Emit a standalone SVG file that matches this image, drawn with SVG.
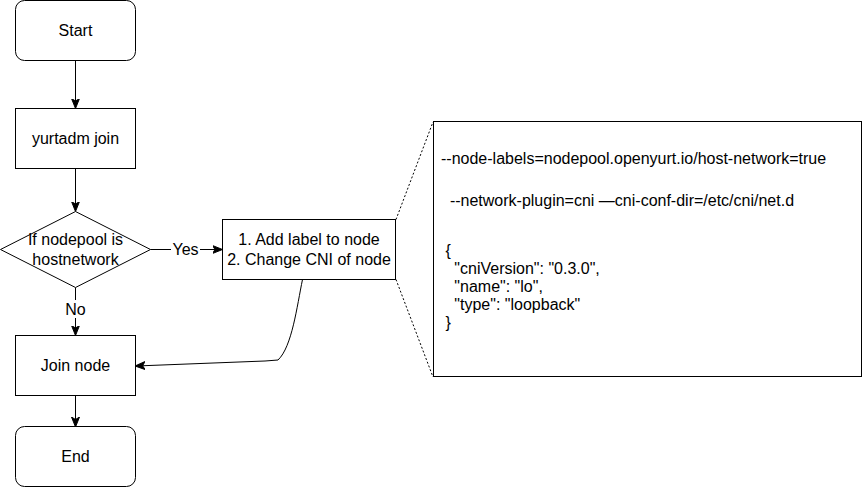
<svg xmlns="http://www.w3.org/2000/svg" width="862" height="487" viewBox="0 0 862 487">
<style>
.n{fill:#fff;stroke:#000;stroke-width:1}
.t{font-family:"Liberation Sans",Arial,sans-serif;font-size:16px;fill:#000}
.c{text-anchor:middle}
.e{fill:none;stroke:#000;stroke-width:1}
.d{fill:none;stroke:#000;stroke-width:1;stroke-dasharray:2 2}
.lb{fill:#fff;stroke:none}
</style>
<defs>
<marker id="arr" viewBox="0 0 10 10" refX="9" refY="5" markerWidth="10" markerHeight="10" markerUnits="userSpaceOnUse" orient="auto">
<path d="M0,1 L10,5 L0,9 L2.5,5 Z" fill="#000" stroke="#000" stroke-width="1"/>
</marker>
</defs>
<rect width="862" height="487" fill="#fff"/>
<g id="connectors">
<path class="e" d="M75.5,60.5 L75.5,107.5" marker-end="url(#arr)"/>
<path class="e" d="M75.5,168.5 L75.5,210.5" marker-end="url(#arr)"/>
<path class="e" d="M75.5,287.5 L75.5,334.5" marker-end="url(#arr)"/>
<rect class="lb" x="64" y="300" width="22" height="18"/>
<text class="t c" x="75.5" y="315">No</text>
<path class="e" d="M75.5,395.5 L75.5,426" marker-end="url(#arr)"/>
<path class="e" d="M150.5,249.5 L221.5,249.5" marker-end="url(#arr)"/>
<rect class="lb" x="171" y="240" width="29" height="18"/>
<text class="t c" x="185.5" y="255">Yes</text>
<path class="e" d="M302.5,279.5 C297,306 292,347 278,360 L265,361 L136,366" marker-end="url(#arr)"/>
<path class="d" d="M396,219.5 L433,122"/>
<path class="d" d="M396,279.5 L433,377"/>
</g>
<g id="start">
<rect class="n" x="15.5" y="0.5" width="120" height="60" rx="9" ry="9"/>
<text class="t c" x="75.5" y="36">Start</text>
</g>
<g id="yurtadm-join">
<rect class="n" x="15.5" y="108.5" width="120" height="60"/>
<text class="t c" x="75.5" y="144">yurtadm join</text>
</g>
<g id="decision">
<path class="n" d="M75.5,211.5 L150.5,249.5 L75.5,287.5 L0.5,249.5 Z"/>
<text class="t c" x="75.5" y="245">If nodepool is</text>
<text class="t c" x="75.5" y="265">hostnetwork</text>
</g>
<g id="actions">
<rect class="n" x="222.5" y="219.5" width="173" height="60"/>
<text class="t c" x="309" y="245">1. Add label to node</text>
<text class="t c" x="309" y="265">2. Change CNI of node</text>
</g>
<g id="join-node">
<rect class="n" x="15.5" y="335.5" width="120" height="60"/>
<text class="t c" x="75.5" y="371">Join node</text>
</g>
<g id="end">
<rect class="n" x="15.5" y="426.5" width="120" height="60" rx="9" ry="9"/>
<text class="t c" x="75.5" y="462">End</text>
</g>
<g id="config-note">
<rect class="n" x="433.5" y="121.5" width="428" height="255"/>
<text class="t" x="441" y="164">--node-labels=nodepool.openyurt.io/host-network=true</text>
<text class="t" x="441" y="206" xml:space="preserve">  --network-plugin=cni —cni-conf-dir=/etc/cni/net.d</text>
<text class="t" x="441" y="256" xml:space="preserve"> {</text>
<text class="t" x="441" y="274" xml:space="preserve">   "cniVersion": "0.3.0",</text>
<text class="t" x="441" y="292" xml:space="preserve">   "name": "lo",</text>
<text class="t" x="441" y="310" xml:space="preserve">   "type": "loopback"</text>
<text class="t" x="441" y="328" xml:space="preserve"> }</text>
</g>
</svg>
